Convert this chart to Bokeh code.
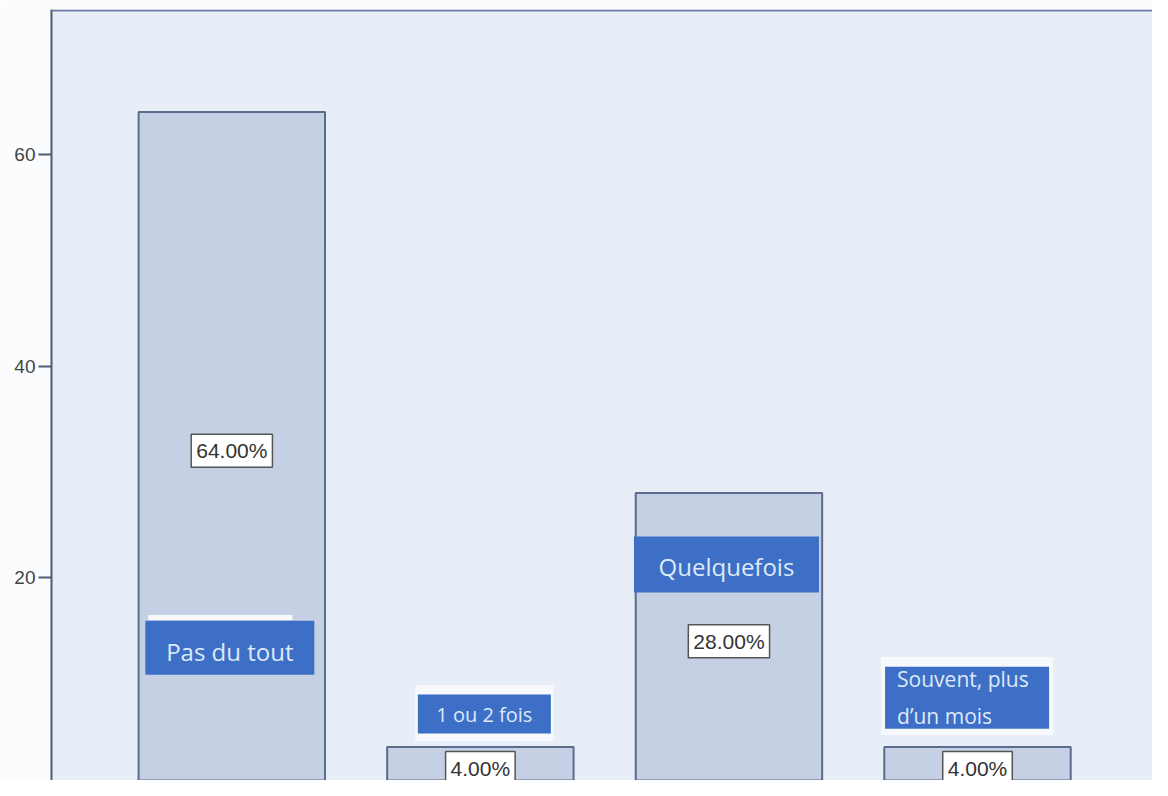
from bokeh.plotting import figure
from bokeh.models import Range1d, Span, ColumnDataSource
from bokeh.core.properties import value
from bokeh.embed import file_html
from bokeh.resources import INLINE

# ---- data ----
categories = ["Pas du tout", "1 ou 2 fois", "Quelquefois", "Souvent, plus\nd\u2019un mois"]
percents = [64.0, 4.0, 28.0, 4.0]
y_ticks = [0, 20, 40, 60]

# ---- layout (category label boxes: x offset, y centre, box w/h in px) ----
lab_dx = [-0.008, 0.016, -0.010, -0.042]
lab_y = [13.38, 7.12, 21.25, 8.66]
lab_w = [169, 133, 185, 164]
lab_h = [54, 39, 56, 62]
lab_size = ["24px", "20px", "24px", "21px"]
lab_yoff = [4, 1, 2, 0]

idx = list(range(len(categories)))

p = figure(width=1152, height=780, output_backend="svg", toolbar_location=None,
           x_range=Range1d(-0.7254, 3.704), y_range=Range1d(0.83, 73.69),
           x_axis_location=None, min_border_left=51, min_border_right=0,
           min_border_top=9, min_border_bottom=0)
p.background_fill_color = "#e8eef7"
p.border_fill_color = "#fbfcfe"
p.outline_line_color = None
p.xgrid.visible = False
p.ygrid.visible = False

ax = p.yaxis[0]
ax.ticker = y_ticks
ax.axis_line_color = "#4f5c75"
ax.axis_line_width = 2
ax.major_tick_line_color = "#4f5c75"
ax.major_tick_line_width = 2
ax.major_tick_out = 13
ax.major_tick_in = 0
ax.minor_tick_line_color = None
ax.major_label_standoff = 3
ax.major_label_text_font = "Liberation Sans"
ax.major_label_text_font_size = "19px"
ax.major_label_text_color = "#444444"

p.add_layout(Span(location=73.6, dimension="width", line_color="#6b7ea2", line_width=2))

src = ColumnDataSource(dict(
    x=idx, top=percents, mid=[v / 2 for v in percents],
    plab=[f"{v:.2f}%" for v in percents],
))
p.vbar(x="x", top="top", bottom=0, width=0.75, source=src,
       fill_color="#c6d0e4", line_color="#5b6b8c", line_width=2)

p.text(x="x", y="mid", text="plab", source=src,
       text_font=value("Liberation Sans"), text_font_size="21px", text_color="#333333",
       text_align="center", text_baseline="middle",
       background_fill_color="#ffffff", border_line_color="#555555", border_line_width=1.5,
       padding=5)

lx = [i + d for i, d in zip(idx, lab_dx)]
# white halos / strip behind the label boxes
p.rect(x=[lx[1], lx[3], lx[0] - 0.038], y=[lab_y[1] + 0.1, lab_y[3] + 0.15, 16.24],
       width=[138, 172, 144], height=[56, 78, 5],
       width_units="screen", height_units="screen",
       fill_color="#f7f9fd", line_color=None)
p.rect(x=lx, y=lab_y, width=lab_w, height=lab_h, width_units="screen", height_units="screen",
       fill_color="#3d6fc6", line_color=None)

for i in idx[:3]:
    p.text(x=[lx[i]], y=[lab_y[i]], text=[categories[i]], y_offset=lab_yoff[i],
           text_font=value("Open Sans"), text_font_size=lab_size[i], text_color="#dde9f8",
           text_align="center", text_baseline="middle")
p.text(x=[lx[3]], y=[lab_y[3]], text=[categories[3]],
       x_offset=-70, text_font=value("Open Sans"), text_font_size=lab_size[3],
       text_color="#dde9f8", text_align="left", text_baseline="middle",
       text_line_height=1.3)

open("out.html", "w").write(file_html(p, INLINE))
